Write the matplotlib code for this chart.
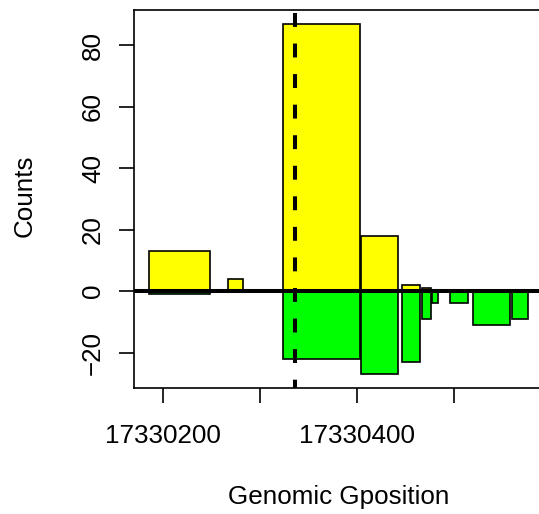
import matplotlib.pyplot as plt

plt.rcParams['font.family'] = ['Liberation Sans', 'DejaVu Sans']
plt.rcParams['lines.scale_dashes'] = False

# forward strand counts (yellow), intervals in genomic coordinates
fwd_start = [17330186, 17330267, 17330324, 17330404, 17330446, 17330467]
fwd_end = [17330249, 17330283, 17330403, 17330442, 17330465, 17330476]
fwd_count = [13, 4, 87, 18, 2, 1]

# reverse strand counts (green)
rev_start = [17330186, 17330324, 17330404, 17330446, 17330467, 17330477, 17330496, 17330520, 17330560]
rev_end = [17330249, 17330403, 17330442, 17330465, 17330476, 17330483, 17330514, 17330558, 17330576]
rev_count = [-1, -22, -27, -23, -9, -4, -4, -11, -9]

site = 17330336

x_ticks = [17330200, 17330300, 17330400, 17330500]
x_labels = ['17330200', '', '17330400', '']
y_ticks = [-20, 0, 20, 40, 60, 80]
y_labels = ['\u221220', '0', '20', '40', '60', '80']

W, H = 539, 514
fig = plt.figure(figsize=(W / 100, H / 100), dpi=100)
ax = fig.add_axes([134 / W, 1 - 388 / H, (543 - 134) / W, (388 - 10) / H])

fs = 18.7
lw = 1.2

ax.bar(fwd_start, fwd_count, width=[e - s for s, e in zip(fwd_start, fwd_end)],
       align='edge', color='#ffff00', edgecolor='black', linewidth=lw, zorder=2)
ax.bar(rev_start, rev_count, width=[e - s for s, e in zip(rev_start, rev_end)],
       align='edge', color='#00ff00', edgecolor='black', linewidth=lw, zorder=3)

ax.axhline(0, color='black', lw=2.9, zorder=4)
ax.axvline(site, color='black', lw=2.9, linestyle=(4, (10, 12)), zorder=5)

# R style 4% padding
xmin, xmax = min(fwd_start + rev_start), max(fwd_end + rev_end)
ymin, ymax = min(rev_count), max(fwd_count)
dx, dy = 0.04 * (xmax - xmin), 0.04 * (ymax - ymin)
ax.set_xlim(xmin - dx, xmax + dx)
ax.set_ylim(ymin - dy, ymax + dy)

ax.set_xticks(x_ticks)
ax.set_xticklabels(x_labels)
ax.set_yticks(y_ticks)
ax.set_yticklabels(y_labels, rotation=90, va='center')
ax.tick_params(axis='both', length=10.8, width=lw, labelsize=fs)
ax.tick_params(axis='x', pad=15)
ax.tick_params(axis='y', pad=10)
for sp in ax.spines.values():
    sp.set_linewidth(lw)

fig.text(338.5 / W, 1 - 497 / H, 'Genomic Gposition', ha='center', va='center', fontsize=fs)
fig.text(25 / W, 1 - 196 / H, 'Counts', ha='center', va='center', rotation=90, fontsize=fs)

fig.savefig('out.png', dpi=100)
